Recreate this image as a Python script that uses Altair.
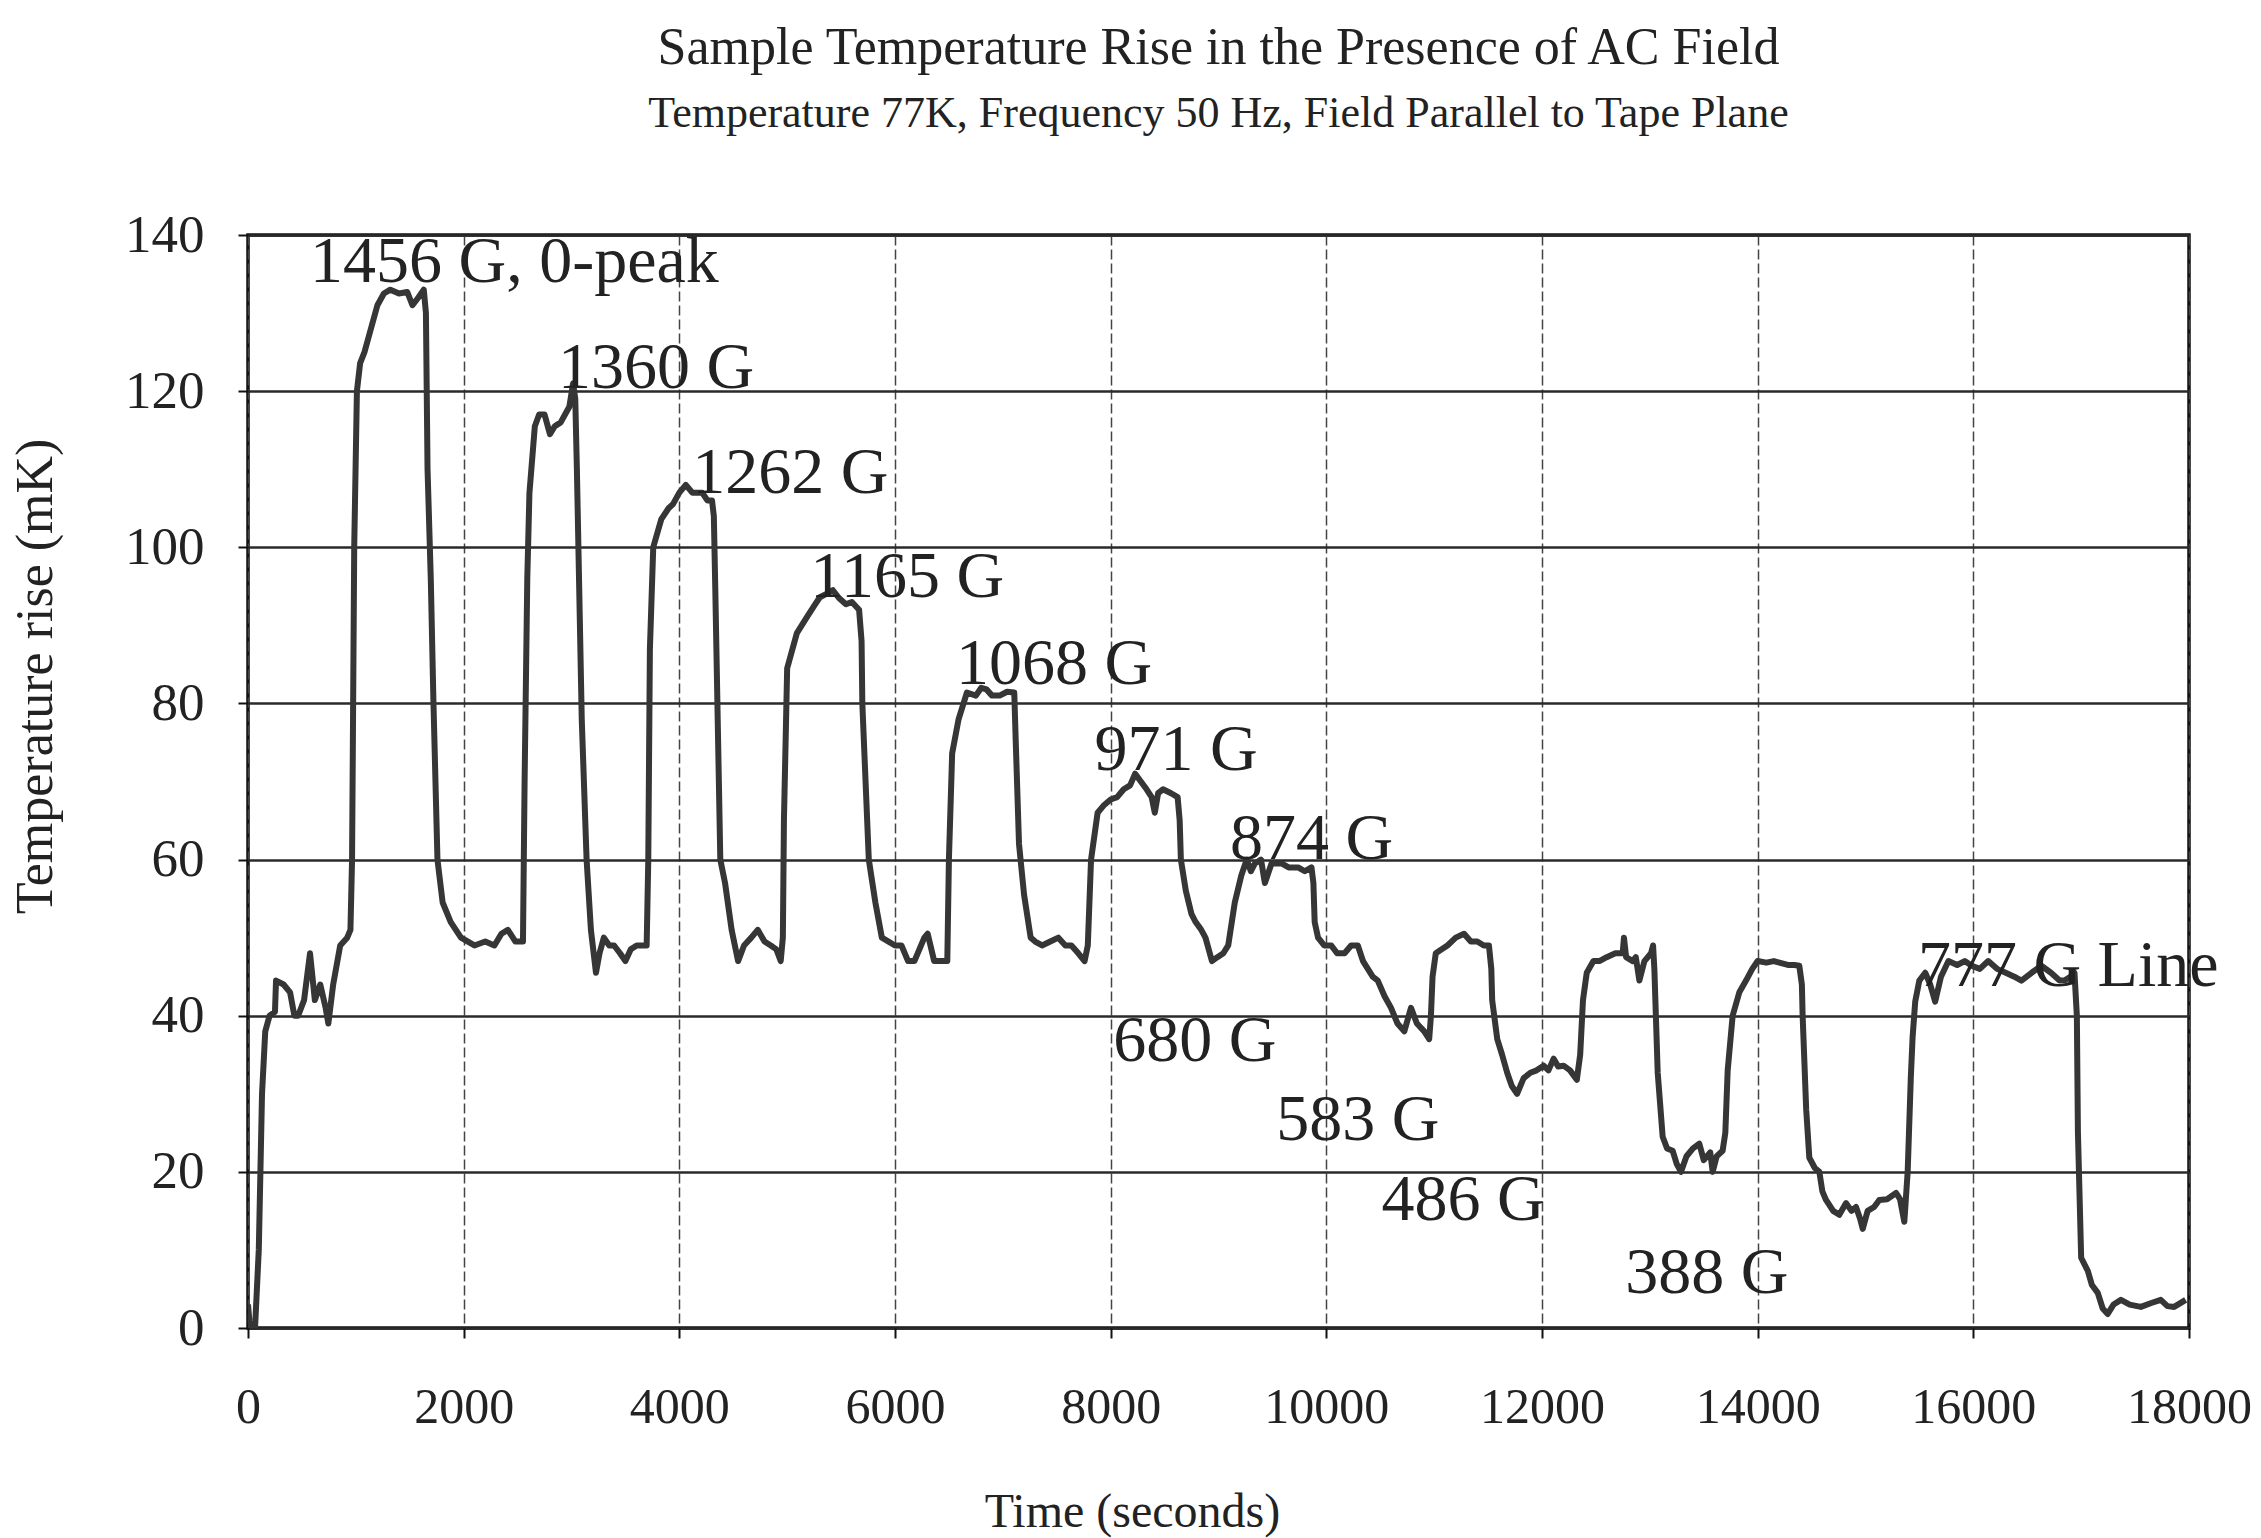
import altair as alt
import pandas as pd

# ---- data ----
time_s = [
    0, 30, 60, 100, 130, 160, 200, 250, 260, 330, 390, 430, 465, 520, 575, 620, 670, 720, 745, 790,
    855, 920, 950, 965, 985, 1010, 1040, 1080, 1120, 1200, 1260, 1320, 1400, 1477, 1525, 1580, 1630,
    1650, 1665, 1695, 1720, 1757, 1805, 1880, 1975, 2100, 2200, 2285, 2350, 2410, 2480, 2550, 2565,
    2590, 2610, 2660, 2700, 2750, 2800, 2845, 2900, 2940, 2980, 3015, 3035, 3050, 3095, 3140, 3180,
    3227, 3260, 3300, 3350, 3395, 3450, 3500, 3550, 3605, 3697, 3712, 3727, 3758, 3833, 3900, 3940,
    4000, 4060, 4120, 4212, 4260, 4303, 4320, 4333, 4380, 4424, 4485, 4545, 4600, 4667, 4727, 4790,
    4848, 4900, 4940, 4960, 4970, 5000, 5090, 5180, 5250, 5303, 5360, 5424, 5480, 5545, 5600, 5667,
    5690, 5697, 5757, 5818, 5878, 5940, 6000, 6060, 6121, 6180, 6272, 6303, 6363, 6394, 6485, 6500,
    6530, 6590, 6667, 6750, 6800, 6848, 6900, 6970, 7040, 7106, 7120, 7150, 7197, 7258, 7300, 7364,
    7440, 7515, 7580, 7636, 7700, 7758, 7788, 7818, 7879, 7940, 8000, 8060, 8121, 8180, 8227, 8280,
    8333, 8380, 8409, 8440, 8485, 8560, 8621, 8640, 8651, 8697, 8750, 8788, 8840, 8879, 8939, 8990,
    9045, 9090, 9151, 9212, 9262, 9300, 9338, 9394, 9430, 9492, 9585, 9650, 9738, 9800, 9862, 9880,
    9892, 9923, 9980, 10046, 10100, 10169, 10230, 10292, 10340, 10385, 10430, 10477, 10540, 10600,
    10660, 10723, 10785, 10840, 10908, 10954, 10970, 10985, 11015, 11070, 11123, 11200, 11277, 11340,
    11400, 11460, 11508, 11530, 11538, 11585, 11630, 11677, 11720, 11769, 11830, 11892, 11950, 12015,
    12060, 12108, 12150, 12200, 12260, 12323, 12354, 12380, 12415, 12477, 12532, 12600, 12680, 12748,
    12760, 12780, 12841, 12870, 12903, 12950, 13011, 13030, 13042, 13073, 13119, 13160, 13212, 13250,
    13289, 13340, 13400, 13459, 13500, 13560, 13583, 13620, 13675, 13700, 13722, 13768, 13830, 13892,
    13950, 14000, 14080, 14150, 14201, 14280, 14340, 14386, 14410, 14417, 14450, 14479, 14530, 14572,
    14600, 14634, 14700, 14757, 14820, 14870, 14912, 14950, 14974, 15020, 15080, 15128, 15200, 15283,
    15320, 15360, 15391, 15420, 15437, 15461, 15499, 15554, 15600, 15646, 15700, 15769, 15850, 15920,
    15985, 16060, 16138, 16220, 16300, 16380, 16446, 16540, 16631, 16720, 16800, 16846, 16900, 16938,
    16960, 16970, 17000, 17062, 17100, 17154, 17200, 17246, 17300, 17369, 17450, 17554, 17650, 17738,
    17800, 17862, 17969,
]
temp_mk = [
    3, -2, -1.5, 10, 30, 38, 40, 40.5, 44.5, 44, 43, 40, 40, 42, 48, 42, 44, 41, 39, 44,
    49, 50, 51, 60, 100, 120, 123.6, 125, 127, 131, 132.5, 133, 132.5, 132.7, 131, 132, 133,
    130, 110, 96, 80, 60, 54.5, 52, 50, 49, 49.5, 49, 50.5, 51, 49.5, 49.5, 70,
    96, 107, 115.5, 117, 117, 114.5, 115.5, 116, 117, 118, 121, 119, 110, 78, 60, 51,
    45.5, 48, 50, 49, 49, 48, 47, 48.5, 49, 49, 60, 87, 100, 103.6, 105, 105.5,
    107, 108, 107, 107, 106, 106, 104, 95, 60, 57, 51, 47, 49, 50, 51, 49.5,
    49, 48.5, 47, 50, 65, 84.5, 89, 91, 92.5, 93.6, 94, 94.5, 93.5, 92.7, 93, 92,
    88, 80, 60, 54.5, 50, 49.5, 49, 49, 47, 47, 50, 50.5, 47, 47, 47, 60,
    73.6, 78, 81.4, 81, 82, 81.8, 81, 81, 81.5, 81.4, 75, 62, 55.5, 50, 49.5, 49,
    49.5, 50, 49, 49, 48, 47, 49, 60, 66, 67, 67.7, 68, 69, 69.5, 71, 70,
    69, 68, 66, 68.5, 69, 68.5, 68, 65, 60, 56, 53, 52, 51, 50, 47, 47.5,
    48, 49, 54.5, 58, 60, 58.5, 59.5, 60, 57, 59.5, 59.5, 59, 59, 58.5, 59, 57,
    52, 50, 49, 49, 48, 48, 49, 49, 47, 46, 45, 44.5, 42.5, 41,
    39, 38, 41, 39, 38, 37, 40, 45, 48, 48.5, 49, 50, 50.5, 49.5,
    49.5, 49, 49, 46, 42, 37, 35, 32.7, 31, 30, 32, 32.7, 33, 33.6,
    33, 34.5, 33.5, 33.6, 33, 31.8, 35, 42, 45.5, 47, 47, 47.5, 48, 48,
    50, 47.5, 47, 47.5, 44.5, 47, 48, 49, 46, 32.7, 24.5, 23, 22.7, 21,
    20, 22, 23, 23.6, 21.5, 22.5, 20, 22, 22.7, 25, 33, 40, 43, 44.5,
    46, 47, 46.8, 47, 46.8, 46.5, 46.5, 46.4, 44, 40, 28, 21.8, 20.5, 20,
    17.5, 16.4, 15, 14.5, 16, 15, 15.5, 14, 12.7, 15, 15.5, 16.4, 16.5, 17.3,
    16.5, 13.6, 20, 32, 37.3, 41.8, 44.5, 45.5, 44, 41.8, 45, 47, 46.5, 47,
    46.4, 46, 47, 46, 45.5, 45, 44.5, 45.5, 46.4, 45.5, 44.5, 44.5, 45, 45.5,
    40, 25, 9, 7.3, 5.5, 4.5, 2.5, 1.8, 3, 3.6, 3, 2.7, 3.2, 3.6,
    2.8, 2.7, 3.6,
]

label_text = ["1456 G, 0-peak", "1360 G", "1262 G", "1165 G", "1068 G", "971 G", "874 G",
              "680 G", "583 G", "486 G", "388 G", "777 G Line"]
label_time = [575, 2875, 4119, 5215, 6566, 7850, 9107, 8024, 9535, 10511, 12771, 15486]
label_temp = [136.5, 123, 109.5, 96.2, 85.1, 74, 62.6, 36.8, 26.6, 16.4, 7.0, 46.4]

x_ticks = list(range(0, 18001, 2000))
y_ticks = list(range(0, 141, 20))

FONT = "Liberation Serif"
INK = "#222222"

curve = pd.DataFrame({"t": time_s, "v": temp_mk})
labels = pd.DataFrame({"t": label_time, "v": label_temp, "txt": label_text})

x_scale = alt.Scale(domain=[0, 18000], nice=False, zero=False)
y_scale = alt.Scale(domain=[0, 140], nice=False)

line = alt.Chart(curve).mark_line(color="#363636", strokeWidth=6, strokeJoin="round", clip=True).encode(
    x=alt.X("t:Q", scale=x_scale,
            axis=alt.Axis(values=x_ticks, format="d", title="Time (seconds)",
                          grid=True, gridDash=[10, 4], gridColor="#444444", gridWidth=1.5,
                          tickSize=10, tickColor="#111111", tickWidth=2,
                          labelFontSize=50, labelPadding=44, labelFlush=False, labelOverlap=False,
                          titleFontSize=48, titlePadding=56, titleX=884,
                          labelFont=FONT, titleFont=FONT, labelColor=INK, titleColor=INK,
                          titleFontWeight="normal", domain=False)),
    y=alt.Y("v:Q", scale=y_scale,
            axis=alt.Axis(values=y_ticks, format="d", title="Temperature rise (mK)",
                          grid=True, gridColor="#2a2a2a", gridWidth=2.5,
                          tickSize=10, tickColor="#111111", tickWidth=2,
                          labelFontSize=53, labelPadding=34, labelFlush=False,
                          titleFontSize=52, titlePadding=62, titleY=441,
                          labelFont=FONT, titleFont=FONT, labelColor=INK, titleColor=INK,
                          titleFontWeight="normal", domain=False)),
)

text = alt.Chart(labels).mark_text(font=FONT, fontSize=66, align="left", baseline="middle",
                                   color=INK).encode(
    x=alt.X("t:Q", scale=x_scale),
    y=alt.Y("v:Q", scale=y_scale),
    text="txt:N",
)

chart = alt.layer(line, text).properties(
    width=1941,
    height=1093,
    title=alt.Title(
        text="Sample Temperature Rise in the Presence of AC Field",
        subtitle="Temperature 77K, Frequency 50 Hz, Field Parallel to Tape Plane",
        anchor="middle", frame="group",
        font=FONT, subtitleFont=FONT, fontSize=52, subtitleFontSize=44,
        fontWeight="normal", color=INK, subtitleColor=INK,
        subtitlePadding=17, offset=72,
    ),
    autosize=alt.AutoSizeParams(type="none"),
    padding={"left": 248, "top": 235, "right": 72, "bottom": 210},
    background="white",
).configure_view(stroke="#111111", strokeWidth=3.5)

chart.save("out.html", embed_options={"renderer": "svg", "actions": False})
